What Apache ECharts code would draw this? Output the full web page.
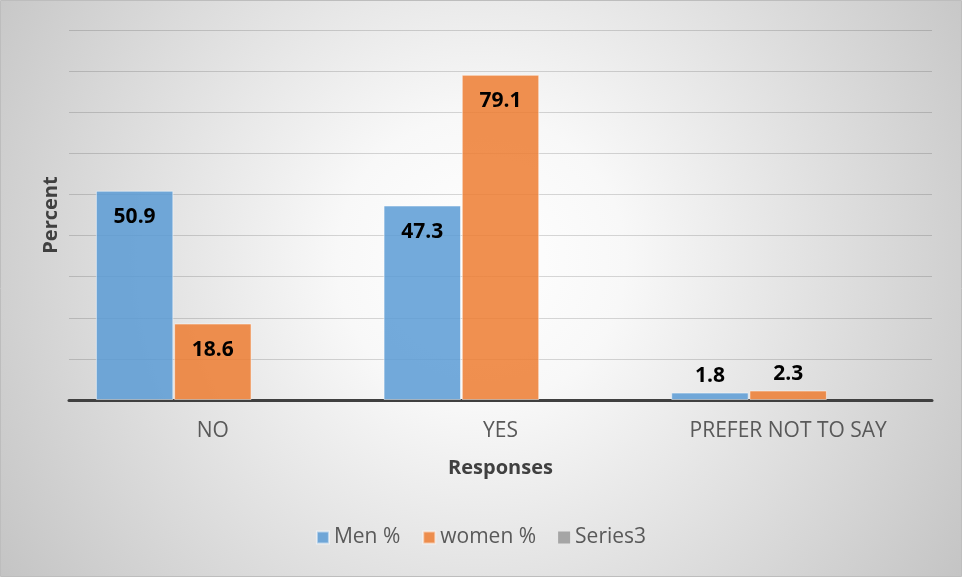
<!DOCTYPE html>
<html>
<head>
<meta charset="utf-8">
<script src="https://cdn.jsdelivr.net/npm/echarts@6/dist/echarts.min.js"></script>
<style>
  html, body { margin: 0; padding: 0; background: #ffffff; }
  #chart { width: 962px; height: 577px; }
</style>
</head>
<body>
<div id="chart"></div>
<script>
// Survey responses by gender, in percent
const categories = ['NO', 'YES', 'PREFER NOT TO SAY'];
const menPct = [50.9, 47.3, 1.8];
const womenPct = [18.6, 79.1, 2.3];
const series3 = [null, null, null];
const seriesNames = ['Men %', 'women %', 'Series3'];

const FONT = '"Open Sans", "Liberation Sans", sans-serif';

// Tall bars carry their value inside near the top, short bars just above
function withLabels(values) {
  return values.map(v => v == null ? '-' : ({
    value: v,
    label: v < 10 ? { position: 'top', distance: 6 } : { position: 'insideTop', distance: 16 }
  }));
}

const labelStyle = {
  show: true,
  color: '#000000',
  fontFamily: FONT,
  fontWeight: 'bold',
  fontSize: 21
};

const chart = echarts.init(document.getElementById('chart'), null, { renderer: 'canvas' });

chart.setOption({
  animation: false,
  graphic: [{
    type: 'rect',
    z: -10,
    silent: true,
    shape: { x: 0.5, y: 0.5, width: 961, height: 576 },
    style: {
      fill: {
        type: 'radial', x: 0.5, y: 0.45, r: 1.0,
        colorStops: [
          { offset: 0, color: '#ffffff' },
          { offset: 0.25, color: '#f8f8f8' },
          { offset: 1, color: '#c4c4c4' }
        ]
      },
      stroke: '#bdbdbd',
      lineWidth: 1
    }
  }],
  grid: { left: 69, right: 30, top: 30, bottom: 177, containLabel: false },
  legend: {
    data: seriesNames,
    bottom: 24,
    left: 'center',
    icon: 'rect',
    itemWidth: 12,
    itemHeight: 12,
    itemGap: 22,
    textStyle: { color: '#595959', fontFamily: FONT, fontSize: 21 }
  },
  xAxis: {
    type: 'category',
    data: categories,
    name: 'Responses',
    nameLocation: 'middle',
    nameGap: 58,
    nameTextStyle: { color: '#404040', fontFamily: FONT, fontWeight: 'bold', fontSize: 20 },
    axisLine: { show: true, lineStyle: { color: '#404040', width: 3 } },
    axisTick: { show: false },
    axisLabel: { color: '#595959', fontFamily: FONT, fontSize: 21, margin: 21 },
    splitLine: { show: false }
  },
  yAxis: {
    type: 'value',
    min: 0,
    max: 90,
    interval: 10,
    name: 'Percent',
    nameLocation: 'middle',
    nameRotate: 90,
    nameGap: 8,
    nameTextStyle: { color: '#404040', fontFamily: FONT, fontWeight: 'bold', fontSize: 20 },
    axisLine: { show: false },
    axisTick: { show: false },
    axisLabel: { show: false },
    splitLine: { show: true, lineStyle: { color: 'rgba(0,0,0,0.15)', width: 1 } }
  },
  series: [
    {
      name: seriesNames[0],
      type: 'bar',
      data: withLabels(menPct),
      barGap: '1%',
      barCategoryGap: '18.7%',
      itemStyle: { color: 'rgba(91,155,213,0.85)', borderColor: 'rgba(255,255,255,0.5)', borderWidth: 1 },
      label: labelStyle
    },
    {
      name: seriesNames[1],
      type: 'bar',
      data: withLabels(womenPct),
      barGap: '1%',
      barCategoryGap: '18.7%',
      itemStyle: { color: 'rgba(237,125,49,0.85)', borderColor: 'rgba(255,255,255,0.5)', borderWidth: 1 },
      label: labelStyle
    },
    {
      name: seriesNames[2],
      type: 'bar',
      data: withLabels(series3),
      barGap: '1%',
      barCategoryGap: '18.7%',
      itemStyle: { color: '#a5a5a5' },
      label: labelStyle
    }
  ]
});
</script>
</body>
</html>
